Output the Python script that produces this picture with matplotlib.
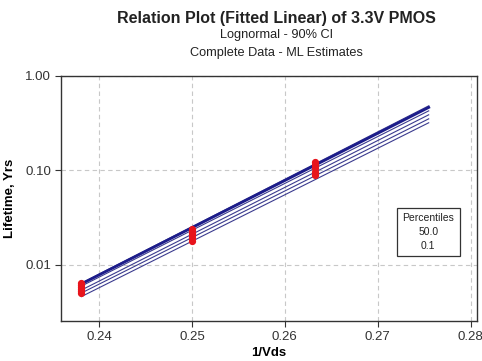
import numpy as np
import matplotlib
matplotlib.use("Agg")
import matplotlib.pyplot as plt
from matplotlib.ticker import FixedLocator, FixedFormatter

# ---- data ----
line_x = [0.2381, 0.2755]
median = [0.00630, 0.462]
median_upper = [0.00641, 0.480]
median_lower = [0.00597, 0.425]
p01 = [0.00504, 0.350]
p01_upper = [0.00542, 0.386]
p01_lower = [0.00462, 0.318]

stress_x = [0.2381, 0.2500, 0.2632]
failures = [
    [0.0050, 0.0053, 0.0056, 0.0059, 0.0062, 0.0065],
    [0.0180, 0.0192, 0.0205, 0.0218, 0.0230, 0.0242],
    [0.0900, 0.0970, 0.1050, 0.1130, 0.1220],
]

x_ticks = [0.24, 0.25, 0.26, 0.27, 0.28]
x_ticklabels = ["0.24", "0.25", "0.26", "0.27", "0.28"]
y_ticks = [0.01, 0.1, 1.0]
y_ticklabels = ["0.01", "0.10", "1.00"]
legend_lines = ["Percentiles", "50.0", "0.1"]

# ---- figure ----
plt.rcParams['font.family'] = ['Liberation Sans', 'DejaVu Sans']
fig = plt.figure(figsize=(4.82, 3.61), dpi=100)
ax = fig.add_axes([61/482, 1-321/361, (477-61)/482, (321-75.7)/361])

navy = '#1c1c8a'
thin = '#3b3b8f'
for s in (median_upper, median_lower, p01, p01_upper, p01_lower):
    ax.plot(line_x, s, color=thin, lw=0.8, zorder=3)
ax.plot(line_x, median, color=navy, lw=2.0, zorder=3)

for x, vals in zip(stress_x, failures):
    ax.plot([x]*len(vals), vals, linestyle='none', marker='o', ms=4.2,
            color='#e8141c', mec='#e8141c', zorder=4)

ax.set_yscale('log')
ax.set_xlim(0.2359, 0.2807)
ax.set_ylim(0.00255, 1.0)

ax.xaxis.set_major_locator(FixedLocator(x_ticks))
ax.xaxis.set_major_formatter(FixedFormatter(x_ticklabels))
ax.yaxis.set_major_locator(FixedLocator(y_ticks))
ax.yaxis.set_major_formatter(FixedFormatter(y_ticklabels))
ax.yaxis.set_minor_locator(FixedLocator([]))
ax.tick_params(axis='both', which='major', direction='out', length=4, width=0.8,
               labelsize=9.5, colors='#333333', pad=3)

ax.grid(True, which='major', linestyle=(0, (4, 3)), color='#c8c8c8', lw=0.8)
ax.set_axisbelow(True)
for sp in ax.spines.values():
    sp.set_color('#333333')
    sp.set_linewidth(1.0)

ax.set_xlabel('1/Vds', fontsize=9.5, fontweight='bold', labelpad=3)
ax.set_ylabel('Lifetime, Yrs', fontsize=9.5, fontweight='bold', labelpad=7)

fig.text(0.573, 1-18/361, 'Relation Plot (Fitted Linear) of 3.3V PMOS',
         ha='center', va='center', fontsize=11.5, fontweight='bold', color='#222222')
fig.text(0.573, 1-35/361, 'Lognormal - 90% CI', ha='center', va='center',
         fontsize=9.2, color='#222222')
fig.text(0.573, 1-53/361, 'Complete Data - ML Estimates', ha='center', va='center',
         fontsize=9.2, color='#222222')

ax.text(0.883, 0.363, "\n".join(legend_lines), transform=ax.transAxes,
        ha='center', va='center', fontsize=7.5, linespacing=1.45, color='#222222',
        bbox=dict(boxstyle='square,pad=0.55', fc='white', ec='#333333', lw=0.9),
        zorder=5)

fig.savefig('out.png', dpi=100)
